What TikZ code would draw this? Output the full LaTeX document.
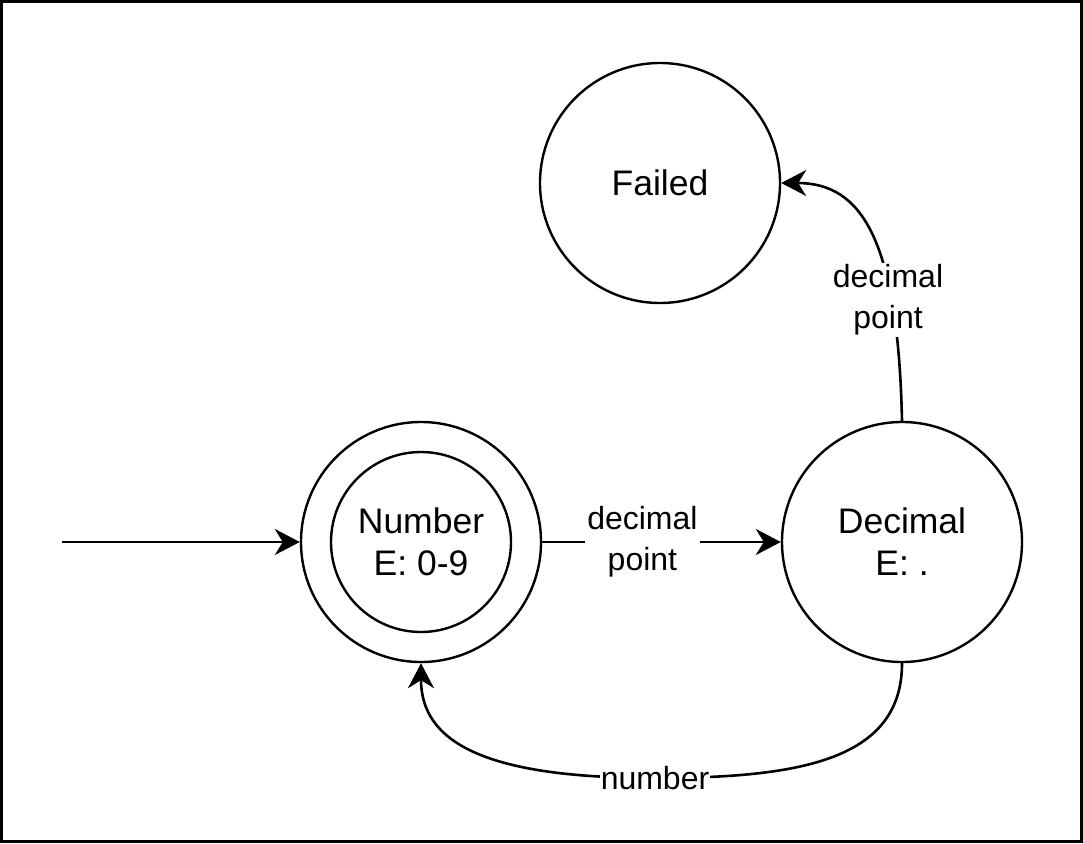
\documentclass[tikz,border=0pt]{standalone}
\usepackage{fontspec}
\setmainfont{Liberation Sans}
\usetikzlibrary{arrows.meta}
\begin{document}
\begin{tikzpicture}[x=1pt,y=-1pt,
  line width=2.6pt,
  state/.style={circle,draw,line width=2.4pt,minimum size=240pt,inner sep=0pt,
    font=\fontsize{35.5}{42}\selectfont,align=center},
  inner/.style={circle,draw,line width=2.4pt,minimum size=180pt,inner sep=0pt},
  lbl/.style={fill=white,inner sep=2pt,font=\fontsize{32}{41}\selectfont,align=center},
  arr/.style={-{Stealth[length=25pt,width=26pt,inset=8pt]}}]
\draw[line width=3pt] (1.5,1.5) rectangle (1081.5,841.5);
\node[state] (failed) at (660,183) {Failed};
\node[state] (number) at (421,542) {};
\node[inner] (numin) at (421,542) {};
\node[font=\fontsize{35.5}{42}\selectfont,align=center] (numtxt) at (421,542) {Number\\E: 0-9};
\node[state] (decimal) at (902,542) {Decimal\\E: .};
\coordinate (start) at (62,542);
\draw[arr] (start) -- (number.west);
\draw[arr] (number.east) -- node[lbl,pos=0.42] {decimal\\point} (decimal.west);
\draw[arr] (decimal.north) .. controls (898,240) and (862,183) .. (failed.east);
\node[lbl] (uplbl) at (888,300) {decimal\\point};
\coordinate (bot) at (655,778);
\draw (decimal.south) .. controls (902,760) and (800,778) .. (bot);
\draw[arr] (bot) .. controls (480,778) and (421,740) .. (number.south);
\node[lbl,inner sep=1pt] (numlbl) at (bot) {number};
\end{tikzpicture}
\end{document}
